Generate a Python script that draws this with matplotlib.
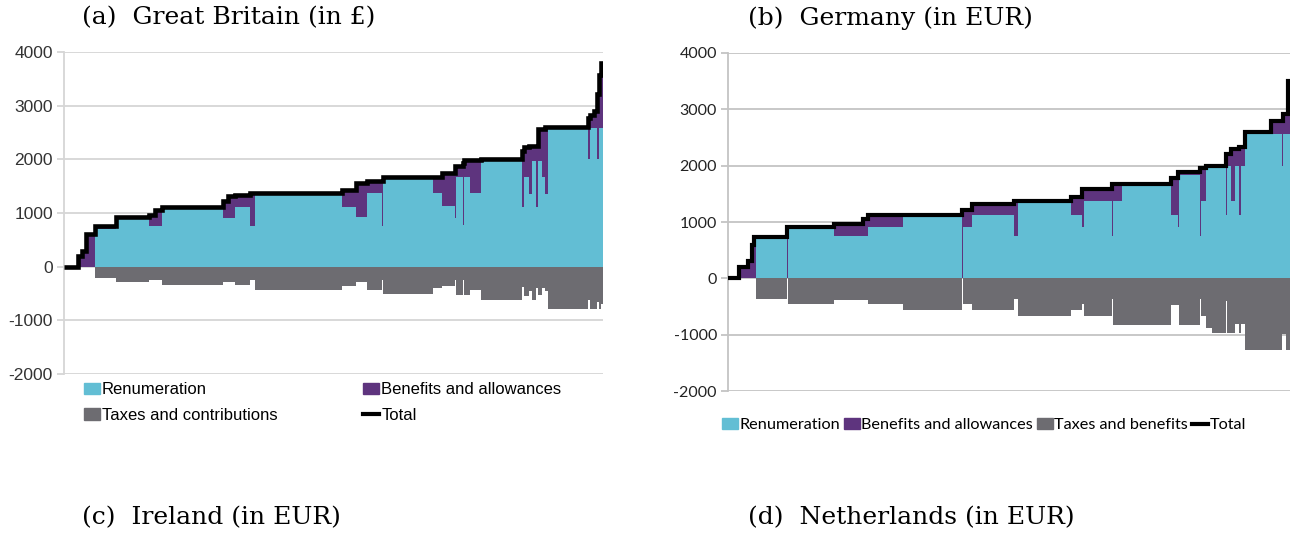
import numpy as np
import matplotlib
matplotlib.use("Agg")
import matplotlib.pyplot as plt
from matplotlib.patches import Patch
from matplotlib.lines import Line2D

plt.rcParams["axes.unicode_minus"] = False

# Colours used in both panels
CYAN = "#62BED4"
PURPLE = "#5E347E"
GREY = "#6D6C71"

# Great Britain: households sorted by total income, grouped into runs of equal values
gb_count = [14, 4, 4, 9, 21, 33, 6, 7, 61, 5, 7, 15, 5, 87, 14, 11, 15, 1, 50, 9, 13,
            1, 7, 1, 6, 11, 41, 2, 5, 3, 4, 2, 4, 3, 3, 40, 2, 4, 3, 2, 2, 2]
gb_renum = [0, 0, 0, 0, 700, 900, 750, 750, 1100, 900, 900, 1120, 750, 1340, 1120, 920,
            1380, 750, 1630, 1370, 1130, 900, 1670, 780, 1670, 1380, 1970, 1110, 1670,
            1360, 1970, 1110, 1970, 1670, 1360, 2580, 2000, 2580, 2580, 2000, 2580, 2580]
gb_benefits = [0, 200, 300, 600, 50, 20, 210, 300, 20, 330, 420, 210, 620, 40, 310, 630,
               210, 840, 50, 310, 610, 980, 210, 1150, 310, 600, 30, 1050, 560, 890, 280,
               1140, 590, 890, 1240, 20, 770, 250, 320, 1210, 1000, 1220]
gb_taxes = [0, 0, 0, 0, -220, -280, -240, -240, -350, -290, -290, -350, -240, -430, -360,
            -290, -430, -240, -500, -400, -360, -240, -520, -240, -520, -430, -620, -370,
            -540, -460, -620, -400, -520, -400, -450, -790, -620, -790, -790, -650, -790, -700]

# Germany
de_count = [11, 9, 4, 2, 2, 31, 1, 46, 29, 5, 35, 59, 1, 9, 41, 4, 53, 11, 2, 28, 1, 9,
            49, 7, 1, 21, 1, 5, 6, 14, 1, 4, 4, 4, 2, 4, 26, 11, 1, 3, 2, 2]
de_renum = [0, 0, 0, 0, 0, 710, 0, 880, 750, 750, 910, 1090, 0, 920, 1120, 750, 1340,
            1120, 920, 1370, 750, 1370, 1660, 1120, 920, 1840, 750, 1370, 1960, 1960, 1120,
            2000, 1370, 2000, 1120, 2000, 2560, 2560, 2000, 2560, 2560, 2560]
de_benefits = [0, 200, 300, 600, 740, 30, 920, 40, 210, 310, 210, 30, 1220, 300, 200, 620,
               30, 320, 660, 210, 930, 310, 20, 660, 960, 40, 1210, 590, 40, 40, 1080, 200,
               920, 290, 1210, 330, 30, 240, 800, 350, 350, 940]
de_taxes = [0, 0, 0, 0, 0, -360, 0, -460, -380, -380, -460, -560, 0, -460, -560, -370, -670,
            -560, -450, -670, -370, -820, -820, -470, -470, -820, -370, -660, -890, -970,
            -400, -970, -970, -810, -970, -810, -1280, -1280, -980, -980, -1280, -1280]

yticks = [-2000, -1000, 0, 1000, 2000, 3000, 4000]

fig = plt.figure(figsize=(12.9, 5.35), dpi=100)


def draw_panel(ax, count, renum, benefits, taxes, grid_color, line_w):
    edges = np.concatenate([[0], np.cumsum(count)])
    renum = np.array(renum, dtype=float)
    total = renum + np.array(benefits, dtype=float)
    ax.stairs(taxes, edges, baseline=0, fill=True, color=GREY, lw=0)
    ax.stairs(renum, edges, baseline=0, fill=True, color=CYAN, lw=0)
    ax.stairs(total, edges, baseline=renum, fill=True, color=PURPLE, lw=0)
    ax.stairs(total, edges, baseline=None, color="black", lw=line_w, zorder=4)
    ax.set_xlim(0, edges[-1])
    ax.set_ylim(-2000, 4000)
    ax.set_yticks(yticks)
    ax.set_xticks([])
    ax.grid(axis="y", color=grid_color, lw=1.3, zorder=0)
    ax.set_axisbelow(True)
    for side in ["top", "right", "bottom"]:
        ax.spines[side].set_visible(False)
    ax.spines["left"].set_color(grid_color)
    ax.spines["left"].set_linewidth(1.3)
    ax.tick_params(axis="y", length=5, width=1.3, color=grid_color, pad=3)


# (a) Great Britain
ax1 = fig.add_axes([64 / 1290, 1 - 374 / 535, 539 / 1290, 322 / 535])
draw_panel(ax1, gb_count, gb_renum, gb_benefits, gb_taxes, "#D6D6D6", 3.3)
for lab in ax1.get_yticklabels():
    lab.set_fontfamily("Liberation Sans")
    lab.set_fontsize(12.5)
    lab.set_color("#333333")

handles_a = [Patch(color=CYAN, label="Renumeration"),
             Patch(color=GREY, label="Taxes and contributions"),
             Patch(color=PURPLE, label="Benefits and allowances"),
             Line2D([], [], color="black", lw=3, label="Total")]
fig.legend(handles=handles_a, ncol=2, loc="upper left",
           bbox_to_anchor=(84 / 1290, 1 - 382 / 535), frameon=False,
           prop={"family": "Liberation Sans", "size": 12},
           handlelength=0.96, handleheight=0.65, handletextpad=0.12,
           columnspacing=5.15, labelspacing=0.65, borderpad=0, borderaxespad=0)

# (b) Germany
ax2 = fig.add_axes([728 / 1290, 1 - 391 / 535, 562 / 1290, 338 / 535])
draw_panel(ax2, de_count, de_renum, de_benefits, de_taxes, "#C4C4C4", 3.0)
for lab in ax2.get_yticklabels():
    lab.set_fontfamily("Lato")
    lab.set_fontsize(11.5)
    lab.set_color("#222222")

handles_b = [Patch(color=CYAN, label="Renumeration"),
             Patch(color=PURPLE, label="Benefits and allowances"),
             Patch(color=GREY, label="Taxes and benefits"),
             Line2D([], [], color="black", lw=3, label="Total")]
fig.legend(handles=handles_b, ncol=4, loc="upper left",
           bbox_to_anchor=(722 / 1290, 1 - 418 / 535), frameon=False,
           prop={"family": "Lato", "size": 11.7},
           handlelength=1.0, handleheight=0.7, handletextpad=0.06,
           columnspacing=0.25, borderpad=0, borderaxespad=0)

# panel captions
cap = {"family": "DejaVu Serif", "size": 18, "color": "black"}
fig.text(82 / 1290, 1 - 18 / 535, "(a)  Great Britain (in £)", va="center", ha="left", **cap)
fig.text(748 / 1290, 1 - 18 / 535, "(b)  Germany (in EUR)", va="center", ha="left", **cap)
fig.text(82 / 1290, 1 - 518 / 535, "(c)  Ireland (in EUR)", va="center", ha="left", **cap)
fig.text(748 / 1290, 1 - 518 / 535, "(d)  Netherlands (in EUR)", va="center", ha="left", **cap)

fig.savefig("out.png", dpi=100, facecolor="white")
